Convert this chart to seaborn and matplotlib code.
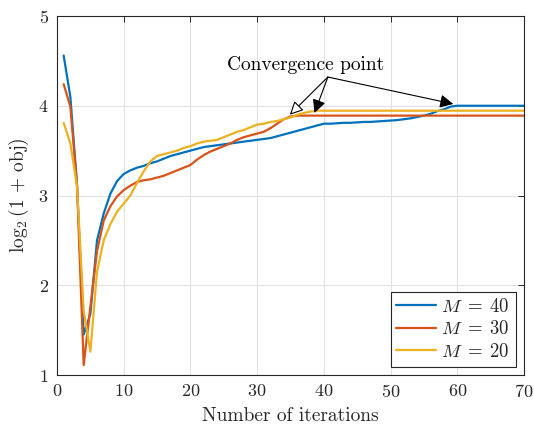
import numpy as np
import pandas as pd
import matplotlib
matplotlib.use("Agg")
import matplotlib.pyplot as plt
import seaborn as sns

iterations = list(range(1, 71))

m40 = [4.56, 4.10, 3.12, 1.45, 1.68, 2.50, 2.80, 3.02, 3.16, 3.24,
       3.28, 3.31, 3.33, 3.36, 3.38, 3.41, 3.44, 3.46, 3.48, 3.50,
       3.52, 3.54, 3.55, 3.56, 3.57, 3.58, 3.59, 3.60, 3.61, 3.62,
       3.63, 3.64, 3.66, 3.68, 3.70, 3.72, 3.74, 3.76, 3.78, 3.80,
       3.80, 3.805, 3.81, 3.81, 3.815, 3.82, 3.82, 3.825, 3.83, 3.835,
       3.84, 3.85, 3.86, 3.875, 3.89, 3.91, 3.94, 3.96, 3.99, 4.00,
       4.00, 4.00, 4.00, 4.00, 4.00, 4.00, 4.00, 4.00, 4.00, 4.00]

m30 = [4.24, 3.99, 3.12, 1.11, 1.76, 2.38, 2.72, 2.88, 2.99, 3.06,
       3.11, 3.15, 3.17, 3.18, 3.20, 3.22, 3.25, 3.28, 3.31, 3.34,
       3.40, 3.45, 3.49, 3.52, 3.55, 3.58, 3.62, 3.65, 3.67, 3.69,
       3.71, 3.75, 3.80, 3.85, 3.88, 3.89, 3.89, 3.89, 3.89, 3.89,
       3.89, 3.89, 3.89, 3.89, 3.89, 3.89, 3.89, 3.89, 3.89, 3.89,
       3.89, 3.89, 3.89, 3.89, 3.89, 3.89, 3.89, 3.89, 3.89, 3.89,
       3.89, 3.89, 3.89, 3.89, 3.89, 3.89, 3.89, 3.89, 3.89, 3.89]

m20 = [3.81, 3.58, 3.10, 1.72, 1.26, 2.15, 2.50, 2.68, 2.82, 2.91,
       3.00, 3.14, 3.27, 3.38, 3.44, 3.46, 3.48, 3.50, 3.53, 3.55,
       3.58, 3.60, 3.61, 3.62, 3.65, 3.68, 3.71, 3.73, 3.76, 3.79,
       3.80, 3.82, 3.83, 3.85, 3.87, 3.90, 3.92, 3.935, 3.945, 3.945,
       3.945, 3.945, 3.945, 3.945, 3.945, 3.945, 3.945, 3.945, 3.945, 3.945,
       3.945, 3.945, 3.945, 3.945, 3.945, 3.945, 3.945, 3.945, 3.945, 3.945,
       3.945, 3.945, 3.945, 3.945, 3.945, 3.945, 3.945, 3.945, 3.945, 3.945]

series_labels = [r"$M\;=\;40$", r"$M\;=\;30$", r"$M\;=\;20$"]
series_colors = ["#0072BD", "#D95319", "#EDB120"]
x_ticks = [0, 10, 20, 30, 40, 50, 60, 70]
y_ticks = [1, 2, 3, 4, 5]

df = pd.concat([
    pd.DataFrame({"iter": iterations, "val": vals, "M": lab})
    for vals, lab in zip([m40, m30, m20], series_labels)
], ignore_index=True)

sns.set_style("white")
plt.rcParams["font.family"] = "serif"
plt.rcParams["font.serif"] = ["cmr10"]
plt.rcParams["mathtext.fontset"] = "cm"
plt.rcParams["axes.formatter.use_mathtext"] = True
plt.rcParams["axes.unicode_minus"] = False

fig = plt.figure(figsize=(5.34, 4.33), dpi=100)
ax = fig.add_axes([57/534, 1 - 375/433, (524-57)/534, (375-16)/433])

sns.lineplot(data=df, x="iter", y="val", hue="M", hue_order=series_labels,
             palette=series_colors, linewidth=1.6, ax=ax, legend=False)

ax.set_xlim(0, 70)
ax.set_ylim(1, 5)
ax.set_xticks(x_ticks)
ax.set_yticks(y_ticks)
ax.grid(True, color="#e2e2e2", linewidth=0.8)
ax.set_axisbelow(True)
for s in ax.spines.values():
    s.set_color("#262626")
    s.set_linewidth(0.8)
ax.tick_params(direction="in", length=4, width=0.7, colors="#262626",
               top=True, right=True, labelsize=13, labelcolor="#262626", pad=6)
ax.set_xlabel("Number of iterations", fontsize=14, color="#262626", labelpad=5)
ax.set_ylabel(r"$\log_2(1\,+\,\mathrm{obj})$", fontsize=14, color="#262626", labelpad=5)

handles = [plt.Line2D([], [], color=c, linewidth=1.6) for c in series_colors]
leg = ax.legend(handles, series_labels, loc="lower right", fontsize=13.5,
                frameon=True, fancybox=False, framealpha=1, edgecolor="#262626",
                handlelength=2.1, borderaxespad=0.45, labelspacing=0.25,
                borderpad=0.3, handletextpad=0.3)
leg.get_frame().set_linewidth(0.8)

ax.text(37.2, 4.45, "Convergence point", fontsize=14, ha="center", va="center",
        color="black")
src = (40.6, 4.32)
ax.annotate("", xy=(34.9, 3.90), xytext=src,
            arrowprops=dict(arrowstyle="-|>", fc="white", ec="black", lw=0.8,
                            mutation_scale=20, shrinkA=0, shrinkB=0))
ax.annotate("", xy=(38.6, 3.92), xytext=src,
            arrowprops=dict(arrowstyle="-|>", fc="black", ec="black", lw=0.8,
                            mutation_scale=20, shrinkA=0, shrinkB=0))
ax.annotate("", xy=(59.4, 4.02), xytext=src,
            arrowprops=dict(arrowstyle="-|>", fc="black", ec="black", lw=0.8,
                            mutation_scale=20, shrinkA=0, shrinkB=0))

fig.savefig("out.png", dpi=100)
